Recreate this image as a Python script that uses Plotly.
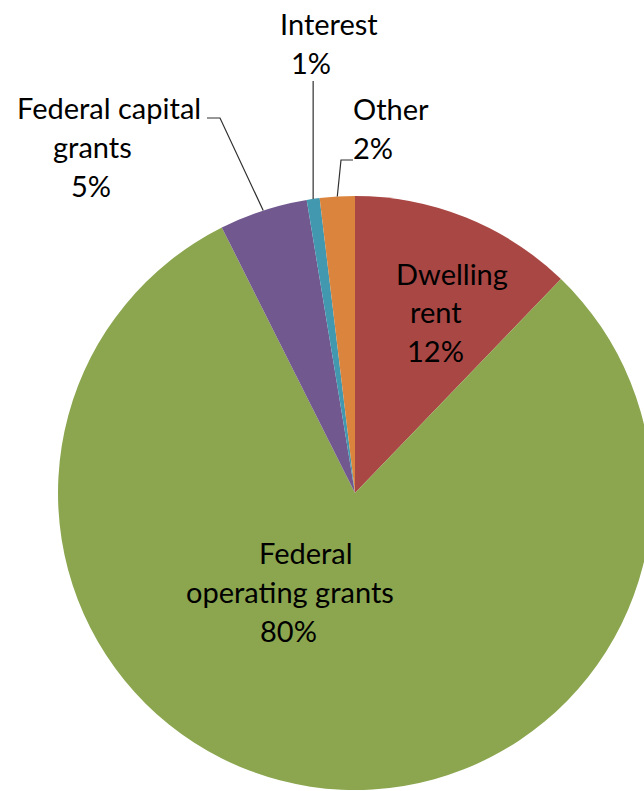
import math
import plotly.graph_objects as go

# ---- data ----
labels = ["Dwelling rent", "Federal operating grants", "Federal capital grants", "Interest", "Other"]
values = [12.2, 80.4, 4.8, 0.7, 1.9]
colors = ["#A94744", "#8BA64F", "#71588F", "#4198AF", "#DB843D"]
label_lines = [["Dwelling", "rent"], ["Federal", "operating grants"], ["Federal capital", "grants"], ["Interest"], ["Other"]]

# ---- layout constants (pixels) ----
W, H = 664, 791
CX, CY, R = 355, 493, 297
FONT = dict(family="Lato, Carlito, Calibri, sans-serif", size=29, color="#000000")

def px(x):
    return x / W

def py(y):
    return 1 - y / H

total = sum(values)
pcts = [f"{round(v / total * 100)}%" for v in values]

fig = go.Figure(go.Pie(
    labels=labels, values=values, sort=False, direction="clockwise", rotation=0,
    marker=dict(colors=colors, line=dict(width=0)),
    textinfo="none", showlegend=False, hoverinfo="label+percent",
    domain=dict(x=[px(CX - R), px(CX + R)], y=[py(CY + R), py(CY - R)]),
))

# label line placement: per slice, list of (center x, baseline y)
placements = [
    [(452, 283), (436, 321), (435, 360)],
    [(306, 562), (290, 601), (288, 640)],
    [(109, 117), (92, 156), (91, 195)],
    [(329, 33), (311, 72)],
    [(391, 118), (373, 157)],
]

annotations = []
for i, lines in enumerate(label_lines):
    texts = lines + [pcts[i]]
    for t, (x, yb) in zip(texts, placements[i]):
        annotations.append(dict(
            text=t, x=px(x), y=py(yb - 0.33 * FONT["size"]), xref="paper", yref="paper",
            xanchor="center", yanchor="middle", showarrow=False, font=FONT,
        ))

# leader lines from slice edge (mid-angle) to label
cum = []
c = 0
for v in values:
    cum.append(c)
    c += v

def edge_point(i):
    a = (cum[i] + values[i] / 2) / total * 2 * math.pi
    return CX + R * math.sin(a), CY - R * math.cos(a)

leaders = {
    2: [(220, 118), (207, 118)],
    3: [(None, 81)],
    4: [(341, 160), (353, 160)],
}
shapes = []
for i, pts in leaders.items():
    ex, ey = edge_point(i)
    path_pts = [(ex, ey)]
    for (x, y) in pts:
        path_pts.append((ex if x is None else x, y))
    d = "M " + " L ".join(f"{px(x):.5f},{py(y):.5f}" for x, y in path_pts)
    shapes.append(dict(type="path", path=d, xref="paper", yref="paper",
                       line=dict(color="#303030", width=1.2)))

fig.update_layout(
    width=W, height=H, margin=dict(l=0, r=0, t=0, b=0),
    paper_bgcolor="white", plot_bgcolor="white",
    annotations=annotations, shapes=shapes,
)

fig.write_html("out.html", config={"displayModeBar": False},
               post_script="document.body.style.margin='0';document.body.style.overflow='hidden';")
